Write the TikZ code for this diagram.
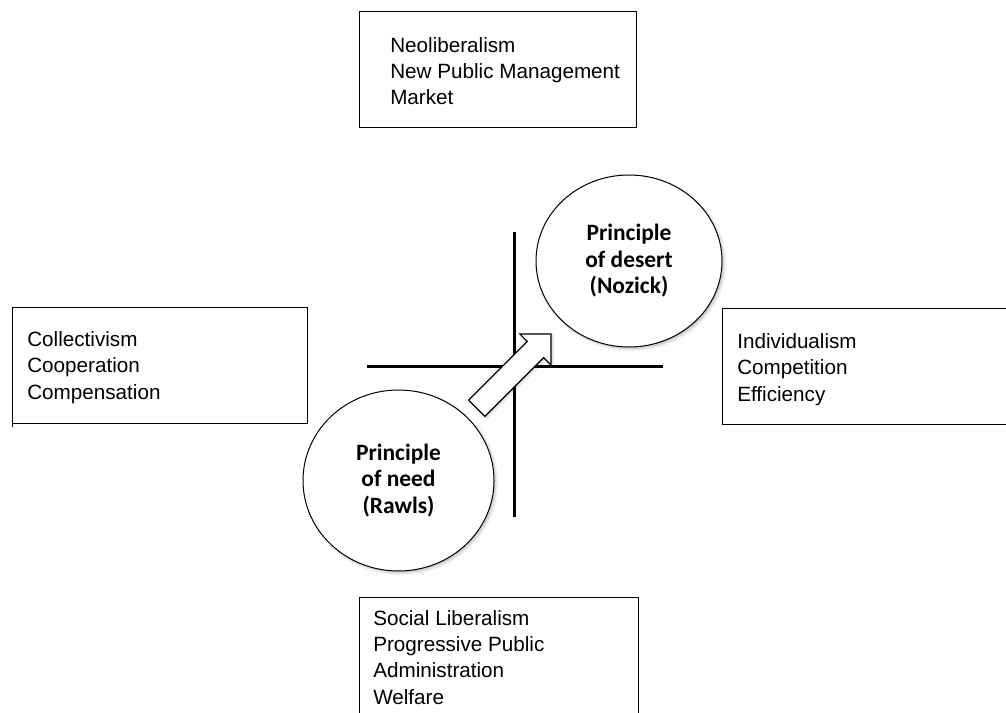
\documentclass[tikz,border=0pt]{standalone}
\usepackage{fontspec}
\setmainfont{Liberation Sans}
\newfontfamily\circfont{Carlito}
\usetikzlibrary{shapes.geometric}
\usetikzlibrary{shadows.blur}

\tikzset{
  boxline/.style={line width=0.75pt},
  axisline/.style={line width=2.25pt},
  boxtext/.style={anchor=base west, inner sep=0pt, align=left, font=\fontsize{15.5}{19.7}\selectfont},
  principle/.style={ellipse, draw, line width=0.75pt, fill=white, align=center, inner sep=0pt,
    font=\circfont\bfseries\fontsize{17.6}{19.9}\selectfont,
    blur shadow={shadow xshift=1.5pt, shadow yshift=-1.5pt, shadow opacity=25}},
}

\begin{document}
\begin{tikzpicture}[x=0.75pt,y=0.75pt,yscale=-1,xscale=1]
\useasboundingbox (0,0) rectangle (1006,713);

%Shape: Axes
\draw [axisline] (367,366) -- (663,366) ;
\draw [axisline] (514,232) -- (514,517) ;

%Shape: Box top
\draw [boxline] (359,12) rectangle (636,128) ;
%Shape: Box left
\draw [boxline] (12,307) -- (307,307) -- (307,423) -- (12,423) (12,307) -- (12,427) ;
%Shape: Box right (open)
\draw [boxline] (1006,308) -- (722,308) -- (722,424) -- (1006,424) ;
%Shape: Box bottom (open)
\draw [boxline] (359,713) -- (359,597) -- (638,597) -- (638,713) ;

%Shape: Ellipses
\node [principle, minimum width=139.5pt, minimum height=129pt] (desert) at (629,261) {Principle\\of desert\\(Nozick)};
\node [principle, minimum width=143.25pt, minimum height=135.75pt] (need) at (398.5,480.5) {Principle\\of need\\(Rawls)};

%Shape: Right Arrow
\draw [line width=0.9pt, fill=white, blur shadow={shadow xshift=1pt, shadow yshift=-1pt, shadow opacity=25}]
  (468.7,400.1) -- (527.3,341.5) -- (519.9,334) -- (551,334) -- (551,365.1) -- (543.6,357.7) -- (484.9,416.4) -- cycle ;

% Text Node (last line baseline)
\node [boxtext] (neolib) at (390,105) {Neoliberalism\\New Public Management\\Market};
% Text Node
\node [boxtext] (collect) at (27,399) {Collectivism\\Cooperation\\Compensation};
% Text Node
\node [boxtext] (individ) at (737,401) {Individualism\\Competition\\Efficiency};
% Text Node
\node [boxtext] (soclib) at (373,704) {Social Liberalism\\Progressive Public\\Administration\\Welfare};

\end{tikzpicture}
\end{document}
